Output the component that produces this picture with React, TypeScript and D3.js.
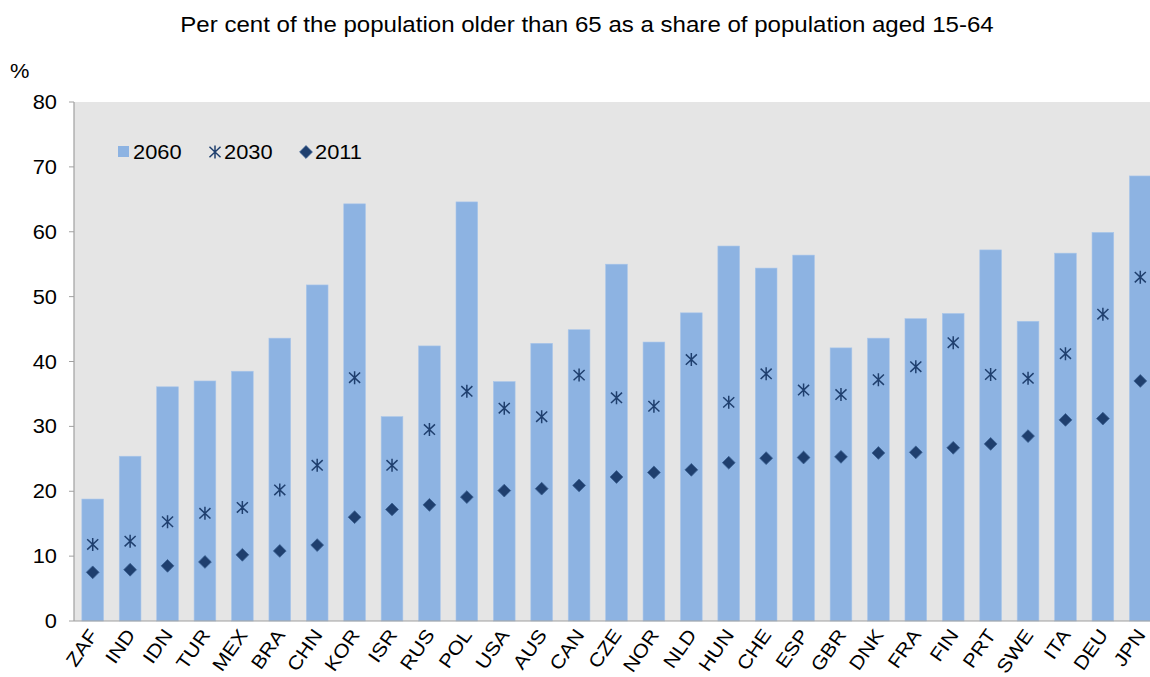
import React from 'react';
import * as d3 from 'd3';

const countries = ['ZAF', 'IND', 'IDN', 'TUR', 'MEX', 'BRA', 'CHN', 'KOR', 'ISR', 'RUS', 'POL', 'USA', 'AUS', 'CAN', 'CZE',
    'NOR', 'NLD', 'HUN', 'CHE', 'ESP', 'GBR', 'DNK', 'FRA', 'FIN', 'PRT', 'SWE', 'ITA', 'DEU', 'JPN'];
const v2060 = [18.8, 25.4, 36.1, 37.0, 38.5, 43.6, 51.8, 64.3, 31.5, 42.4, 64.6, 36.9, 42.8, 44.9, 55.0,
    43.0, 47.5, 57.8, 54.4, 56.4, 42.1, 43.6, 46.6, 47.4, 57.2, 46.2, 56.7, 59.9, 68.6];
const v2030 = [11.8, 12.3, 15.3, 16.6, 17.5, 20.2, 24.0, 37.5, 24.0, 29.5, 35.4, 32.8, 31.5, 37.9, 34.4,
    33.1, 40.3, 33.7, 38.1, 35.6, 34.9, 37.2, 39.2, 42.9, 38.0, 37.4, 41.2, 47.3, 53.0];
const v2011 = [7.5, 7.9, 8.5, 9.1, 10.2, 10.8, 11.7, 16.0, 17.2, 17.9, 19.1, 20.1, 20.4, 20.9, 22.2,
    22.9, 23.3, 24.4, 25.1, 25.2, 25.3, 25.9, 26.0, 26.7, 27.3, 28.5, 31.0, 31.2, 37.0];
const yTicks = [0, 10, 20, 30, 40, 50, 60, 70, 80];

const W = 1150;
const H = 677;
const FONT = '"Liberation Sans", Arial, sans-serif';
const FS = 19.5;
const SX = 1.12; // Schrift im Original leicht in die Breite gezogen
const barColor = '#8db3e2';
const markColor = '#1f3f6e';

// Sternchen wie im Excel-Marker: senkrecht + X
const asterisk = (s: number) => `M0,${-s}L0,${s}M${-s * 0.85},${-s * 0.8}L${s * 0.85},${s * 0.8}M${-s * 0.85},${s * 0.8}L${s * 0.85},${-s * 0.8}`;
const diamond = (s: number) => `M0,${-s}L${s},0L0,${s}L${-s},0Z`;

const Label: React.FC<{x: number; y: number; anchor?: string; rotate?: number; size?: number; children: React.ReactNode}> =
    ({x, y, anchor = 'start', rotate = 0, size = FS, children}) => (
        <text transform={`translate(${x},${y}) rotate(${rotate}) scale(${SX},1)`} textAnchor={anchor}
              fontSize={size} fill="#000">{children}</text>
    );

const App: React.FC = () => {
    const left = 74;
    const top = 102;
    const bottom = 621;
    const right = 1159;

    const x = d3.scaleBand<string>()
        .domain(countries)
        .range([left, right])
        .paddingInner(0.42)
        .paddingOuter(0.21);
    const y = d3.scaleLinear().domain([0, 80]).range([bottom, top]);
    const cx = (c: string) => (x(c) ?? 0) + x.bandwidth() / 2;

    return (
        <svg width={W} height={H} style={{position: 'absolute', left: 0, top: 0, background: '#fff'}} fontFamily={FONT}>
            <Label x={587} y={32} anchor="middle" size={21.5}>
                Per cent of the population older than 65 as a share of population aged 15-64
            </Label>
            <Label x={10} y={78}>%</Label>

            {/* Plotfläche */}
            <rect x={left} y={top} width={right - left} height={bottom - top} fill="#e5e5e5"/>

            {/* Balken 2060 */}
            {countries.map((c, i) => (
                <rect key={c} x={x(c)} y={y(v2060[i])} width={x.bandwidth()} height={y(0) - y(v2060[i])}
                      fill={barColor} stroke="#a9c6ea" strokeWidth={0.6}/>
            ))}

            {/* 2030 */}
            {countries.map((c, i) => (
                <path key={'a' + c} d={asterisk(6.5)} transform={`translate(${cx(c)},${y(v2030[i])})`}
                      fill="none" stroke={markColor} strokeWidth={1.5}/>
            ))}
            {/* 2011 */}
            {countries.map((c, i) => (
                <path key={'d' + c} d={diamond(6.4)} transform={`translate(${cx(c)},${y(v2011[i])})`}
                      fill={markColor} stroke="#3a5f92" strokeWidth={0.8}/>
            ))}

            {/* Achsen */}
            <line x1={left} x2={left} y1={top} y2={bottom} stroke="#a0a0a0" strokeWidth={1.2}/>
            <line x1={left} x2={right} y1={bottom} y2={bottom} stroke="#a0a0a0" strokeWidth={1.2}/>
            {yTicks.map(t => (
                <g key={t}>
                    <line x1={left - 5} x2={left} y1={y(t)} y2={y(t)} stroke="#a0a0a0" strokeWidth={1}/>
                    <Label x={57} y={y(t) + 7} anchor="end">{t}</Label>
                </g>
            ))}
            {countries.map(c => (
                <Label key={'l' + c} x={cx(c) + 6} y={bottom + 14} anchor="end" rotate={-55} size={19}>{c}</Label>
            ))}

            {/* Legende */}
            <rect x={118} y={146} width={11} height={11} fill={barColor}/>
            <Label x={133} y={159}>2060</Label>
            <path d={asterisk(6.5)} transform="translate(215,152)" fill="none" stroke={markColor} strokeWidth={1.5}/>
            <Label x={224} y={159}>2030</Label>
            <path d={diamond(6.4)} transform="translate(306,152)" fill={markColor} stroke="#3a5f92" strokeWidth={0.8}/>
            <Label x={315} y={159}>2011</Label>
        </svg>
    );
};

export default App;
